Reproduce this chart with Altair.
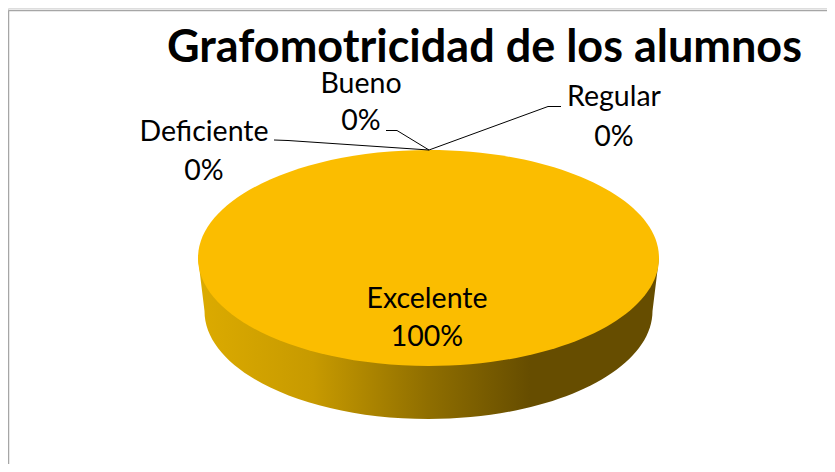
import altair as alt
import pandas as pd

TITLE = "Grafomotricidad de los alumnos"
categories = ["Deficiente", "Bueno", "Regular", "Excelente"]
shares = [0, 0, 0, 100]

FONT = "Lato"
W, H = 819, 456
OX, OY = 8, 8  # page margin

df = pd.DataFrame({"categoria": categories, "porcentaje": shares})
df["linea1"] = df["categoria"]
df["linea2"] = df["porcentaje"].astype(str) + "%"
slice_df = df[df["porcentaje"] > 0]
one = df.head(1)


def px(v):
    return alt.value(v - OX)


def py(v):
    return alt.value(v - OY)


def seg(x0, y0, x1, y1, color="black", width=1.0):
    return alt.Chart(one).mark_rule(color=color, strokeWidth=width).encode(
        x=px(x0), y=py(y0), x2=px(x1), y2=py(y1)
    )


def label(cat, x, y1, y2):
    d = df[df["categoria"] == cat]
    base = alt.Chart(d).mark_text(font=FONT, fontSize=28.5, color="black", align="center", baseline="middle")
    return base.encode(x=px(x), y=py(y1), text="linea1:N") + base.encode(x=px(x), y=py(y2), text="linea2:N")


S = 230.5
RY = 108 / S
top_path = f"M-1,0 A1,{RY:.4f} 0 1 1 1,0 A1,{RY:.4f} 0 1 1 -1,0 Z"
bx = 224 / S
by = 53 / S
side_path = f"M-1,0 L{-bx:.4f},{by:.4f} A{bx:.4f},{RY:.4f} 0 0 0 {bx:.4f},{by:.4f} L1,0 Z"
size = (2 * S) ** 2

gradient = alt.LinearGradient(
    gradient="linear", x1=0, x2=1, y1=0, y2=0,
    stops=[
        alt.GradientStop(offset=0.0, color="#dcab00"),
        alt.GradientStop(offset=0.25, color="#c79a00"),
        alt.GradientStop(offset=0.5, color="#8f6e00"),
        alt.GradientStop(offset=0.72, color="#664d00"),
        alt.GradientStop(offset=1.0, color="#664d00"),
    ],
)

side = alt.Chart(slice_df).mark_point(
    shape=side_path, size=size, filled=True, fill=gradient, stroke=None, opacity=1
).encode(x=px(428.5), y=py(258))
top = alt.Chart(slice_df).mark_point(
    shape=top_path, size=size, filled=True, fill="#fbbd00", stroke=None, opacity=1
).encode(x=px(428.5), y=py(258))

layers = [
    seg(8.5, 10.5, 835, 10.5, "#a6a6a6", 1.5),
    seg(8.5, 10.5, 8.5, 472, "#a6a6a6", 1.5),
    side,
    top,
    seg(274, 140, 288, 140.5),
    seg(288, 140.5, 429, 150),
    seg(386, 130.5, 397, 130.5),
    seg(397, 130.5, 429, 150),
    seg(561, 106.5, 548, 106.5),
    seg(548, 106.5, 429, 150),
    label("Deficiente", 204, 132, 171),
    label("Bueno", 361, 84, 121),
    label("Regular", 614, 97, 137),
    label("Excelente", 427, 299, 337),
]

chart = alt.layer(*layers).properties(
    width=W, height=H,
    title=alt.TitleParams(
        TITLE, font=FONT, fontSize=45, fontWeight="bold", color="black",
        anchor="start", frame="group", dx=159, dy=103, baseline="alphabetic", align="left",
    ),
    padding=0,
    autosize=alt.AutoSizeParams(type="none"),
).configure_view(stroke=None).configure(background="white")

chart.save("out.html", embed_options={"renderer": "svg", "actions": False})
